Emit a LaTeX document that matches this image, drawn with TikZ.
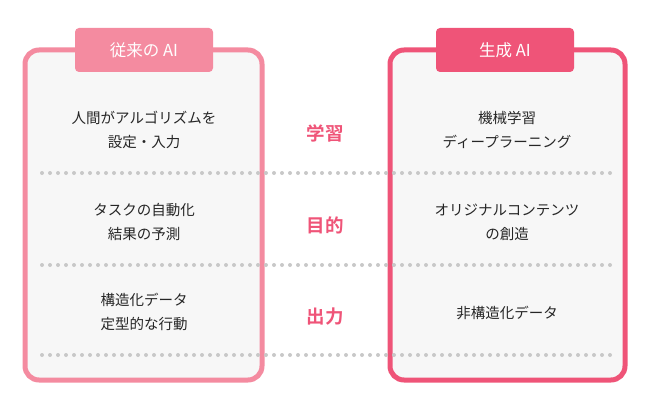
\documentclass[tikz,border=0pt]{standalone}
\usepackage{fontspec}
\setmainfont{Noto Sans CJK JP}
\newfontfamily\jpbold{Noto Sans CJK JP Bold}
\definecolor{pinkA}{HTML}{F48BA0}
\definecolor{pinkB}{HTML}{EF5478}
\definecolor{boxbg}{HTML}{F7F7F7}
\definecolor{dotc}{HTML}{C8C8C8}
\begin{document}
\begin{tikzpicture}[x=1pt,y=-1pt,
  panel/.style={rounded corners=14pt,line width=5pt,fill=boxbg},
  tab/.style={rounded corners=4pt,text=white,font=\fontsize{16.5}{18}\selectfont,inner sep=0pt,minimum width=138pt,minimum height=44pt},
  txt/.style={align=center,font=\fontsize{14.5}{24}\selectfont,text=black!85},
  mid/.style={text=pinkB,font=\jpbold\fontsize{18.5}{20}\selectfont},
  dots/.style={dotc,line width=4pt,line cap=round,dash pattern=on 0pt off 8pt}]
\useasboundingbox (0,0) rectangle (653,412);
\draw[panel,draw=pinkA] (25,50) rectangle (262,380);
\draw[panel,draw=pinkB] (390,50) rectangle (625,380);
\node[tab,fill=pinkA] (h1) at (144,50) {従来の AI};
\node[tab,fill=pinkB] (h2) at (505,50) {生成 AI};
\coordinate (l1) at (42,173); \coordinate (r1) at (610,173);
\coordinate (l2) at (42,265); \coordinate (r2) at (610,265);
\coordinate (l3) at (42,355); \coordinate (r3) at (610,355);
\draw[dots] (l1) -- (r1);
\draw[dots] (l2) -- (r2);
\draw[dots] (l3) -- (r3);
\node[txt] (a1) at (144,130) {人間がアルゴリズムを\\設定・入力};
\node[txt] (a2) at (144,222) {タスクの自動化\\結果の予測};
\node[txt] (a3) at (144,312) {構造化データ\\定型的な行動};
\node[mid] (m1) at (325,133) {学習};
\node[mid] (m2) at (325,225) {目的};
\node[mid] (m3) at (325,317) {出力};
\node[txt] (b1) at (507,130) {機械学習\\ディープラーニング};
\node[txt] (b2) at (507,222) {オリジナルコンテンツ\\の創造};
\node[txt] (b3) at (507,313) {非構造化データ};
\end{tikzpicture}
\end{document}
